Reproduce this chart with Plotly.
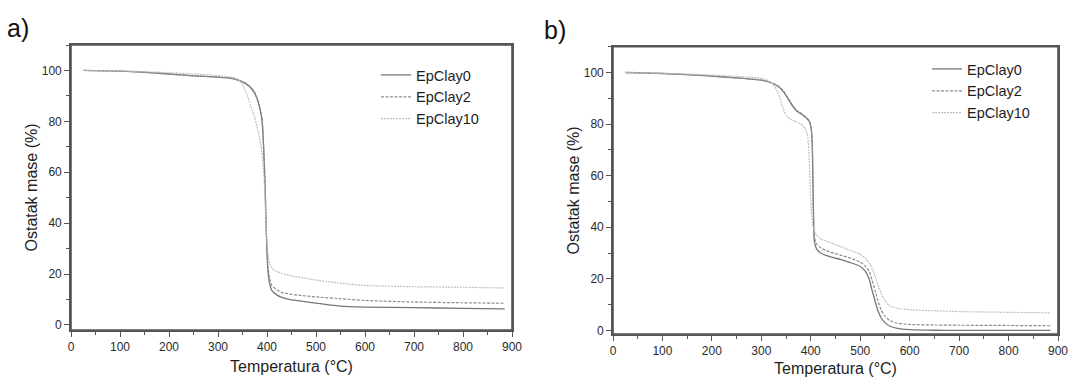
import plotly.graph_objects as go

# ---------------- data ----------------
series_names = ["EpClay0", "EpClay2", "EpClay10"]

# Panel a)  temperature (°C) / residual mass (%)
a_x_clay0 = [25, 50, 100, 150, 200, 250, 300, 330, 350, 365, 375, 385, 390, 393, 396, 398, 400, 402, 405, 410, 420, 430, 450, 500, 550, 600, 700, 800, 885]
a_y_clay0 = [100, 99.9, 99.7, 99.3, 98.6, 97.9, 97.4, 96.8, 95.5, 93.5, 91, 85.5, 80, 70, 55, 40, 28, 21, 16.5, 13.5, 11.8, 10.8, 9.8, 8.6, 7.4, 7.0, 6.8, 6.5, 6.3]
a_x_clay2 = a_x_clay0
a_y_clay2 = [100, 99.9, 99.7, 99.3, 98.6, 97.9, 97.4, 96.9, 95.6, 93.8, 91.3, 86, 81, 71, 57, 42, 30, 23, 18.5, 15.5, 13.8, 12.8, 12, 11, 10.3, 9.6, 9, 8.7, 8.5]
a_x_clay10 = [25, 50, 100, 150, 200, 250, 300, 330, 343, 350, 358, 366, 374, 382, 388, 392, 395, 397, 399, 402, 406, 412, 420, 430, 450, 500, 550, 600, 700, 800, 885]
a_y_clay10 = [100, 99.9, 99.8, 99.5, 99.1, 98.6, 98, 97.3, 96.3, 94.5, 91, 86.5, 82, 76, 70, 63, 54, 44, 35, 28, 24, 22, 21, 20.3, 19.3, 17.6, 16.4, 15.5, 15, 14.8, 14.5]

# Panel b)
b_x_clay0 = [25, 50, 100, 150, 200, 250, 300, 320, 335, 345, 355, 365, 372, 380, 390, 397, 401, 403, 404, 405, 406, 407, 409, 412, 420, 440, 460, 480, 500, 510, 518, 524, 530, 536, 542, 550, 560, 575, 600, 650, 700, 800, 885]
b_y_clay0 = [100, 99.9, 99.6, 99.2, 98.6, 97.9, 97, 96, 94.5, 92.5, 89.5, 86.5, 85, 84, 82.5, 81, 78, 72, 62, 50, 40, 35, 33, 31.5, 30, 28.5, 27.5, 26.3, 24.8, 23, 20, 15.5, 11.5, 7.5, 5, 3, 1.6, 0.8, 0.3, 0.05, 0, 0, 0]
b_x_clay2 = b_x_clay0
b_y_clay2 = [100, 99.9, 99.6, 99.2, 98.6, 97.9, 97.1, 96.1, 94.7, 92.8, 89.8, 86.8, 85.3, 84.3, 82.8, 81.3, 78, 72, 62, 50, 41, 37, 35, 33.5, 32, 30.3, 29.2, 28, 26.5, 25, 23, 19.5, 15.5, 11.5, 8, 5.5, 3.8, 2.8, 2.3, 2.1, 2, 1.9, 1.8]
b_x_clay10 = [25, 50, 100, 150, 200, 250, 300, 315, 325, 333, 340, 346, 352, 360, 370, 380, 388, 393, 396, 398, 400, 402, 405, 410, 420, 440, 460, 480, 500, 510, 520, 528, 535, 542, 550, 560, 575, 600, 650, 700, 800, 885]
b_y_clay10 = [100, 99.9, 99.7, 99.4, 99, 98.5, 97.8, 96.8, 95.2, 92.5, 88.5, 85, 83, 81.8, 81, 80, 78.5, 76, 70, 60, 50, 44, 40, 37.5, 35.5, 34, 32.5, 31, 29.5, 28, 25.5, 22, 18, 14.5, 11.5, 9.5, 8.6, 8, 7.6, 7.3, 7, 6.8]

x_ticks = [0, 100, 200, 300, 400, 500, 600, 700, 800, 900]
y_ticks = [0, 20, 40, 60, 80, 100]
panel_labels = ["a)", "b)"]
x_title = "Temperatura (°C)"
y_title = "Ostatak mase (%)"

# ---------------- styles ----------------
FONT = "Arial, Liberation Sans, sans-serif"
AXC = "#555555"
styles = [
    dict(color="#777777", width=1.3, dash="solid"),
    dict(color="#8c8c8c", width=1.2, dash="3px,1.5px"),
    dict(color="#c0c0c0", width=1.2, dash="2px,1px"),
]

fig = go.Figure()

panels = [
    ("x", "y", "legend", [(a_x_clay0, a_y_clay0), (a_x_clay2, a_y_clay2), (a_x_clay10, a_y_clay10)]),
    ("x2", "y2", "legend2", [(b_x_clay0, b_y_clay0), (b_x_clay2, b_y_clay2), (b_x_clay10, b_y_clay10)]),
]
for xa, ya, lg, data in panels:
    for name, (xs, ys), st in zip(series_names, data, styles):
        fig.add_trace(go.Scatter(
            x=xs, y=ys, name=name, mode="lines", xaxis=xa, yaxis=ya,
            legend=lg, line=dict(shape="spline", smoothing=0.6, **st),
        ))

axis_common = dict(
    showgrid=False, zeroline=False, showline=True, mirror=True,
    linecolor=AXC, linewidth=1.6, ticks="outside", ticklen=5,
    tickwidth=1.3, tickcolor=AXC,
    tickfont=dict(family=FONT, size=12, color="#2a2a2a"),
    title_font=dict(family=FONT, size=16, color="#1e1e1e"),
)
minor_x = dict(dtick=50, ticks="outside", ticklen=3, tickwidth=1.2, tickcolor=AXC)
minor_y = dict(dtick=10, ticks="outside", ticklen=3, tickwidth=1.2, tickcolor=AXC)

legend_common = dict(xanchor="left", yanchor="top", bgcolor="rgba(0,0,0,0)",
                     font=dict(family=FONT, size=14.5, color="#1e1e1e"),
                     tracegroupgap=0, itemwidth=30)

# frame around each plotting area (axes box)
frames = [
    dict(type="rect", xref="x domain", yref="y domain", x0=0, x1=1, y0=0, y1=1,
         line=dict(color=AXC, width=1.6), fillcolor="rgba(0,0,0,0)", layer="above"),
    dict(type="rect", xref="x2 domain", yref="y2 domain", x0=0, x1=1, y0=0, y1=1,
         line=dict(color=AXC, width=1.6), fillcolor="rgba(0,0,0,0)", layer="above"),
]

fig.update_layout(
    template="none",
    width=1070, height=377,
    margin=dict(l=0, r=0, t=0, b=0),
    paper_bgcolor="white", plot_bgcolor="white",
    showlegend=True,
    xaxis=dict(domain=[71 / 1070, 512 / 1070], range=[0, 900], tickvals=x_ticks, minor=minor_x,
               title=dict(text=x_title, standoff=8), anchor="y", **axis_common),
    yaxis=dict(domain=[1 - 330 / 377, 1 - 45 / 377], range=[-2, 110], tickvals=y_ticks, minor=minor_y,
               title=dict(text=y_title, standoff=0), anchor="x", **axis_common),
    xaxis2=dict(domain=[613 / 1070, 1058 / 1070], range=[0, 900], tickvals=x_ticks, minor=minor_x,
                title=dict(text=x_title, standoff=8), anchor="y2", **axis_common),
    yaxis2=dict(domain=[1 - 334 / 377, 1 - 46.7 / 377], range=[-1.4, 110], tickvals=y_ticks, minor=minor_y,
                title=dict(text=y_title, standoff=0), anchor="x2", **axis_common),
    legend=dict(x=376 / 1070, y=1 - 59 / 377, **legend_common),
    legend2=dict(x=927 / 1070, y=1 - 53 / 377, **legend_common),
    shapes=frames,
    annotations=[
        dict(text=panel_labels[0], x=5 / 1070, y=1 - 28 / 377, xref="paper", yref="paper",
             xanchor="left", yanchor="middle", showarrow=False,
             font=dict(family=FONT, size=25, color="#111")),
        dict(text=panel_labels[1], x=542 / 1070, y=1 - 30 / 377, xref="paper", yref="paper",
             xanchor="left", yanchor="middle", showarrow=False,
             font=dict(family=FONT, size=25, color="#111")),
    ],
)

fig.write_html("out.html", config={"displayModeBar": False},
               post_script="document.body.style.margin='0px';")
